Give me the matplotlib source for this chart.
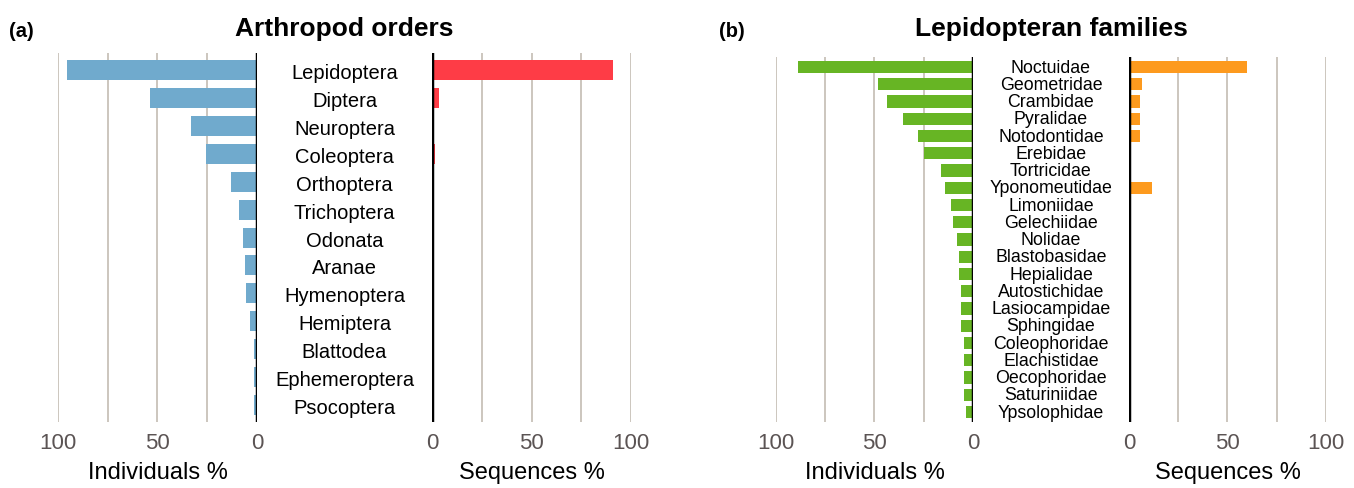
import matplotlib.pyplot as plt
from matplotlib.transforms import blended_transform_factory, ScaledTranslation

plt.rcParams['font.family'] = ['Liberation Sans', 'DejaVu Sans']

# Panel (a) data
orders = ["Lepidoptera", "Diptera", "Neuroptera", "Coleoptera", "Orthoptera",
          "Trichoptera", "Odonata", "Aranae", "Hymenoptera", "Hemiptera",
          "Blattodea", "Ephemeroptera", "Psocoptera"]
orders_individuals = [95.5, 54, 33, 25.5, 13, 9, 7, 6, 5.5, 3.5, 1.5, 1.5, 1.3]
orders_sequences = [91, 3.5, 0.3, 1.5, 0.3, 0, 0, 0, 0, 0, 0, 0, 0]

# Panel (b) data
families = ["Noctuidae", "Geometridae", "Crambidae", "Pyralidae", "Notodontidae",
            "Erebidae", "Tortricidae", "Yponomeutidae", "Limoniidae", "Gelechiidae",
            "Nolidae", "Blastobasidae", "Hepialidae", "Autostichidae", "Lasiocampidae",
            "Sphingidae", "Coleophoridae", "Elachistidae", "Oecophoridae",
            "Saturiniidae", "Ypsolophidae"]
families_individuals = [89, 48, 43.5, 35.5, 28, 25, 16.3, 14.2, 11.2, 10.2, 8.1,
                        7.1, 7.1, 6.1, 6.1, 6.1, 4.6, 4.6, 4.6, 4.6, 3.6]
families_sequences = [60, 6.5, 5.5, 5.5, 5.5, 0, 0, 11.5, 0, 0, 0, 0, 0, 0, 0.3,
                      0, 0, 0, 0, 0, 0.3]

ticks = [0, 50, 100]
grid_at = [0, 25, 50, 75, 100]
GRID = "#c8c1b9"
TICK_COLOR = "#5b5454"


def style_axis(ax, n, pad, invert):
    ax.set_xlim(0, 100)
    if invert:
        ax.invert_xaxis()
    ax.set_ylim(n - 1 + pad, -pad)
    for s in ax.spines.values():
        s.set_visible(False)
    for g in grid_at[1:]:
        ax.axvline(g, color=GRID, linewidth=1.3, zorder=0)
    ax.axvline(0, color="black", linewidth=2.5, zorder=3)
    ax.set_yticks([])
    ax.set_xticks(ticks)
    ax.tick_params(axis="x", length=0, labelsize=16, labelcolor=TICK_COLOR, pad=8)


def draw_panel(fig, names, individuals, sequences, col_left, col_right,
               left_box, right_box, bar_h, pad, label_size, title, letter, letter_x,
               text_shift):
    n = len(names)
    y = list(range(n))
    ax_l = fig.add_axes(left_box)
    ax_r = fig.add_axes(right_box)
    ax_l.barh(y, individuals, height=bar_h, color=col_left, zorder=2)
    ax_r.barh(y, sequences, height=bar_h, color=col_right, zorder=2)
    style_axis(ax_l, n, pad, True)
    style_axis(ax_r, n, pad, False)
    ax_l.set_xlabel("Individuals %", fontsize=17, labelpad=6)
    ax_r.set_xlabel("Sequences %", fontsize=17, labelpad=6)

    # category names between the two axes, nudged down a little
    mid = (left_box[0] + left_box[2] + right_box[0]) / 2
    tr = blended_transform_factory(fig.transFigure, ax_l.transData)
    tr = tr + ScaledTranslation(0, -text_shift / 72, fig.dpi_scale_trans)
    for i, name in enumerate(names):
        ax_l.text(mid, i, name, transform=tr, ha="center", va="center",
                  fontsize=label_size, clip_on=False)

    center = (left_box[0] + right_box[0] + right_box[2]) / 2
    fig.text(center, 0.94, title, ha="center", va="center",
             fontsize=19, fontweight="bold")
    fig.text(letter_x, 0.935, letter, ha="left", va="center",
             fontsize=14.5, fontweight="bold")


fig = plt.figure(figsize=(13.54, 4.88), dpi=100)

draw_panel(fig, orders, orders_individuals, orders_sequences, "#70aacd", "#fe3c46",
           [0.0428, 0.1352, 0.147, 0.756], [0.3191, 0.1352, 0.147, 0.756],
           0.72, 0.62, 14.5, "Arthropod orders", "(a)", 0.007, 2.5)

draw_panel(fig, families, families_individuals, families_sequences, "#67b524", "#fd9a1e",
           [0.5731, 0.1352, 0.1455, 0.748], [0.8338, 0.1352, 0.1455, 0.748],
           0.7, 0.58, 12.8, "Lepidopteran families", "(b)", 0.531, 0.8)

fig.savefig("out.png", dpi=100)
